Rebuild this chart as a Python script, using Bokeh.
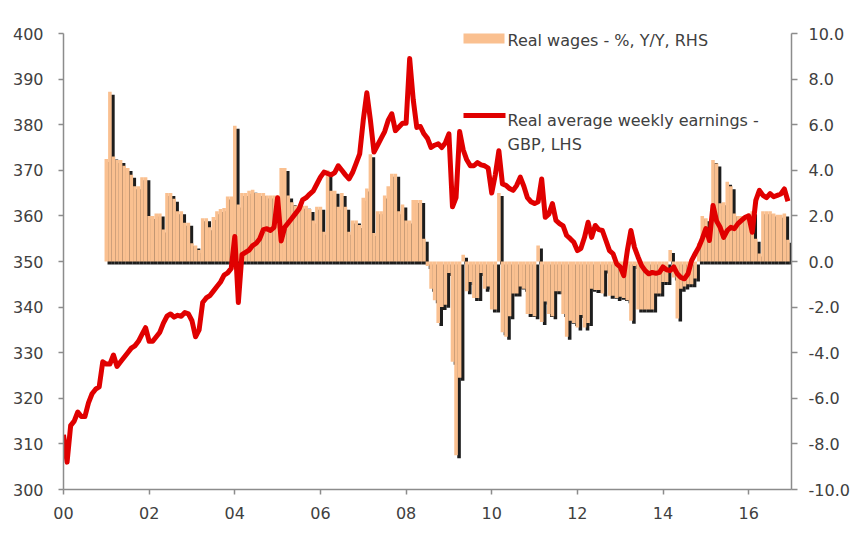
import numpy as np
from bokeh.plotting import figure
from bokeh.models import (Range1d, LinearAxis, FixedTicker, NumeralTickFormatter,
                          Label, BoxAnnotation, ColumnDataSource)
from bokeh.embed import file_html
from bokeh.resources import INLINE

# ---------------- data ----------------
# Real average weekly earnings, GBP (LHS), monthly Jan 2000 - Dec 2016
earnings_2000 = [312, 306, 314, 315, 317, 316, 316, 319, 321, 322, 322.5, 328]
earnings_2001 = [327.5, 327.5, 329.5, 327, 328, 329, 330, 331, 331.5, 332.5, 334, 335.5]
earnings_2002 = [332.5, 332.5, 333.5, 334.5, 336.5, 338, 338.5, 337.8, 338.2, 338, 338.8, 338.5]
earnings_2003 = [337, 333.5, 335, 341, 342, 342.5, 343.5, 344.5, 345.5, 347, 347.5, 348.5]
earnings_2004 = [355.5, 341, 351.5, 352, 352.5, 353.5, 354, 355, 357, 357.2, 356.8, 357.5]
earnings_2005 = [364, 354.5, 357.5, 358.5, 359.5, 360.5, 361.5, 363.5, 364, 364.8, 365.5, 367]
earnings_2006 = [368.5, 369.6, 369.3, 369, 369.5, 371, 370, 369, 368.1, 369.5, 371.5, 373.6]
earnings_2007 = [381, 387, 381, 374, 375.5, 377, 378.5, 381, 382.4, 378.7, 379.5, 380.3]
earnings_2008 = [380.3, 394.5, 385.5, 379.4, 379.6, 378, 377, 375, 375.5, 375.8, 375, 376]
earnings_2009 = [378, 362, 364, 378.5, 374.5, 372.3, 371, 371, 371.7, 371.2, 371, 370.5]
earnings_2010 = [365, 369, 374.3, 367, 366.7, 366, 365.6, 366.7, 368.5, 366.5, 364, 363.1]
earnings_2011 = [362.7, 363.1, 368.1, 359.7, 360.4, 362.7, 359, 358.3, 357.8, 355.7, 355, 354.2]
earnings_2012 = [352.4, 352.9, 355.3, 358.6, 355.3, 357.9, 357, 356.8, 354.6, 352.4, 351.7, 349.5]
earnings_2013 = [348.8, 346.9, 352.4, 356.8, 353.1, 351, 349.1, 348, 347.3, 347.6, 347.4, 347.6]
earnings_2014 = [348.8, 348.2, 348, 348.8, 347.3, 346.5, 346.2, 347.3, 350.2, 351.7, 353.1, 355]
earnings_2015 = [357.2, 354.6, 362.3, 358.9, 357.5, 355.3, 356.8, 357.5, 357.2, 358.3, 359, 359.7]
earnings_2016 = [360, 356.4, 363.4, 365.6, 364.5, 364, 364.9, 364.2, 364.5, 364.8, 365.9, 363.2]

# Real wages, % Y/Y (RHS), monthly Jan 2001 - Dec 2016
wages_2001 = [4.5, 7.45, 4.6, 4.45, 4.45, 4.2, 4.1, 3.8, 3.3, 3.3, 3.7, 3.7]
wages_2002 = [2.0, 2.0, 2.1, 2.1, 1.4, 3.0, 3.0, 2.75, 2.2, 2.2, 1.7, 1.7]
wages_2003 = [0.8, 0.7, 0.5, 1.9, 1.9, 1.5, 1.95, 2.2, 2.3, 2.35, 2.85, 2.85]
wages_2004 = [5.95, 2.5, 3.0, 3.0, 3.1, 3.15, 3.0, 3.0, 3.0, 2.9, 2.9, 2.9]
wages_2005 = [2.9, 4.1, 4.1, 2.9, 2.6, 2.45, 2.45, 2.45, 2.45, 2.3, 1.8, 2.4]
wages_2006 = [2.4, 1.3, 4.0, 3.1, 3.1, 2.4, 3.0, 2.4, 1.3, 1.8, 1.8, 1.6]
wages_2007 = [2.8, 3.2, 4.7, 1.25, 2.2, 2.2, 2.9, 3.3, 3.85, 3.85, 2.2, 2.5]
wages_2008 = [1.8, 1.8, 2.7, 2.7, 2.7, 1.0, -0.2, -1.2, -1.7, -2.7, -2.0, -1.9]
wages_2009 = [-0.5, -4.4, -8.5, -5.1, 0.3, -1.3, -0.9, -1.6, -1.6, -0.5, -1.2, -1.1]
wages_2010 = [-2.1, -2.1, 3.0, -3.1, -3.3, -2.4, -1.4, -1.4, -1.1, -1.2, -2.3, -2.3]
wages_2011 = [-2.4, 0.7, -2.65, -1.75, -2.3, -2.4, -1.3, -1.3, -2.3, -3.3, -2.6, -2.7]
wages_2012 = [-2.9, -2.35, -2.9, -2.7, -1.2, -1.25, -1.25, -1.4, -0.4, -1.5, -1.5, -1.6]
wages_2013 = [-1.55, -1.6, -1.7, -2.6, -0.2, -2.1, -2.1, -2.1, -2.1, -2.1, -1.4, -1.4]
wages_2014 = [-0.9, -0.9, 0.5, -0.7, -2.5, -1.2, -1.1, -1.0, -1.0, -0.75, 0.8, 2.0]
wages_2015 = [1.9, 1.1, 4.45, 4.3, 2.55, 2.6, 3.5, 3.3, 2.1, 2.0, 2.0, 2.0]
wages_2016 = [2.1, 2.2, 1.0, 0.35, 2.2, 2.2, 2.2, 2.1, 2.05, 2.05, 2.1, 0.95]

x_tick_years = [2000, 2002, 2004, 2006, 2008, 2010, 2012, 2014, 2016]
x_tick_labels = ["00", "02", "04", "06", "08", "10", "12", "14", "16"]
lhs_ticks = [300, 310, 320, 330, 340, 350, 360, 370, 380, 390, 400]
rhs_ticks = [-10, -8, -6, -4, -2, 0, 2, 4, 6, 8, 10]

bar_label = "Real wages - %, Y/Y, RHS"
line_label_1 = "Real average weekly earnings -"
line_label_2 = "GBP, LHS"

earnings = (earnings_2000 + earnings_2001 + earnings_2002 + earnings_2003 + earnings_2004 +
            earnings_2005 + earnings_2006 + earnings_2007 + earnings_2008 + earnings_2009 +
            earnings_2010 + earnings_2011 + earnings_2012 + earnings_2013 + earnings_2014 +
            earnings_2015 + earnings_2016)
wages = (wages_2001 + wages_2002 + wages_2003 + wages_2004 + wages_2005 + wages_2006 +
         wages_2007 + wages_2008 + wages_2009 + wages_2010 + wages_2011 + wages_2012 +
         wages_2013 + wages_2014 + wages_2015 + wages_2016)

line_x = 2000 + np.arange(len(earnings)) / 12.0
bar_x = 2001 + np.arange(len(wages)) / 12.0
wages_arr = np.array(wages, dtype=float)

# ---------------- figure ----------------
FW, FH = 728, 456
X0, X1 = 2000, 2017
px_per_year = FW / (X1 - X0)
px_per_rhs = FH / 20.0

p = figure(frame_width=FW, frame_height=FH,
           x_range=Range1d(X0, X1), y_range=Range1d(300, 400),
           output_backend="svg", toolbar_location=None,
           min_border_left=63, min_border_right=60, min_border_top=33, min_border_bottom=48)
p.extra_y_ranges = {"rhs": Range1d(-10, 10)}
p.outline_line_color = None
p.xgrid.visible = False
p.ygrid.visible = False
p.background_fill_color = "white"
p.border_fill_color = "white"

TXT = "#404040"
AX = "#8c8c8c"
FONT = "DejaVu Sans"
FS = "16px"

# shadow of the bars (offset right/down), then the bars
dx = 3.0 / px_per_year
dy = 3.0 / px_per_rhs
shadow_src = ColumnDataSource(dict(x=bar_x + dx,
                                   top=np.maximum(wages_arr, 0) - dy,
                                   bottom=np.minimum(wages_arr, 0) - dy))
p.vbar(x="x", top="top", bottom="bottom", width=1 / 12.0, source=shadow_src,
       y_range_name="rhs", fill_color="#111111", line_color=None, fill_alpha=0.95)

bar_src = ColumnDataSource(dict(x=bar_x, top=np.maximum(wages_arr, 0), bottom=np.minimum(wages_arr, 0)))
p.vbar(x="x", top="top", bottom="bottom", width=1 / 12.0, source=bar_src,
       y_range_name="rhs", fill_color="#FAC090", line_color=None)

line_src = ColumnDataSource(dict(x=line_x, y=earnings))
p.line(x="x", y="y", source=line_src, line_color="#E00000", line_width=5, line_join="round")

# ---------------- axes ----------------
def style_axis(ax, tick_out):
    ax.axis_line_color = AX
    ax.axis_line_width = 1.5
    ax.major_tick_line_color = AX
    ax.major_tick_line_width = 1.5
    ax.major_tick_out = tick_out
    ax.major_tick_in = 0
    ax.minor_tick_line_color = None
    ax.major_label_text_font = FONT
    ax.major_label_text_font_size = FS
    ax.major_label_text_color = TXT

xa = p.xaxis[0]
xa.ticker = FixedTicker(ticks=x_tick_years)
xa.major_label_overrides = {y: lab for y, lab in zip(x_tick_years, x_tick_labels)}
style_axis(xa, 5)
xa.major_label_standoff = 12

ya = p.yaxis[0]
ya.ticker = FixedTicker(ticks=lhs_ticks)
style_axis(ya, 5)
ya.major_label_standoff = 15

ra = LinearAxis(y_range_name="rhs", ticker=FixedTicker(ticks=rhs_ticks),
                formatter=NumeralTickFormatter(format="0.0"))
style_axis(ra, 6)
ra.major_label_standoff = 11
p.add_layout(ra, "right")

# ---------------- legend (drawn as annotations) ----------------
def yr(px):      # page-pixel x -> year
    return X0 + (px - 63) / px_per_year

def lhs(py):     # page-pixel y -> left-axis value
    return 400 - (py - 33) / (FH / 100.0)

p.add_layout(BoxAnnotation(left=yr(463), right=yr(504), top=lhs(31), bottom=lhs(43),
                           fill_color="#FAC090", fill_alpha=1, line_color=None))
p.add_layout(BoxAnnotation(left=yr(463), right=yr(505), top=lhs(112.5), bottom=lhs(117.5),
                           fill_color="#E00000", fill_alpha=1, line_color=None))
for txt, py in [(bar_label, 39.5), (line_label_1, 120), (line_label_2, 143.5)]:
    p.add_layout(Label(x=yr(507), y=lhs(py), text=txt, text_baseline="middle",
                       text_align="left", text_font=FONT, text_font_size=FS, text_color=TXT))

open("out.html", "w").write(file_html(p, INLINE))
